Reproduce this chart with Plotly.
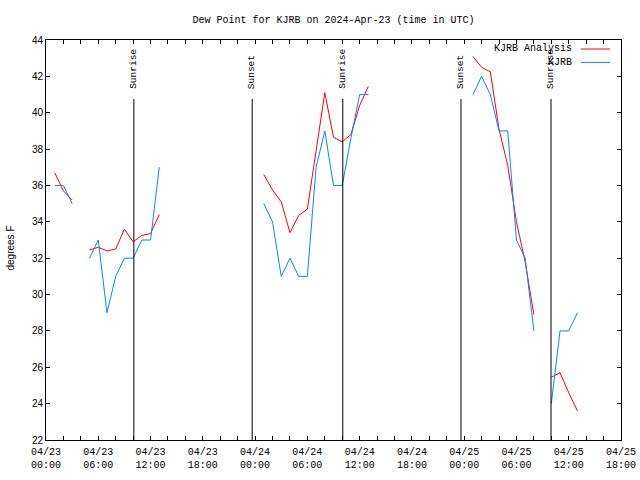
import plotly.graph_objects as go
import pandas as pd

# ---- data -------------------------------------------------------------
base = pd.Timestamp("2024-04-23 00:00")
hours = list(range(0, 62))

analysis = {
    1: 36.7, 2: 35.7, 3: 35.2,
    5: 32.45, 6: 32.6, 7: 32.4, 8: 32.5, 9: 33.6, 10: 32.9, 11: 33.25, 12: 33.35, 13: 34.4,
    25: 36.6, 26: 35.75, 27: 35.1, 28: 33.4, 29: 34.35, 30: 34.7, 31: 37.9, 32: 41.1,
    33: 38.65, 34: 38.4, 35: 38.8, 36: 40.4, 37: 41.45,
    49: 43.1, 50: 42.5, 51: 42.25, 52: 39.1, 53: 37.1, 54: 34.0, 55: 31.8, 56: 28.9,
    58: 25.45, 59: 25.7, 60: 24.6, 61: 23.6,
}
observed = {
    1: 36, 2: 36, 3: 35,
    5: 32, 6: 33, 7: 29, 8: 31, 9: 32, 10: 32, 11: 33, 12: 33, 13: 37,
    25: 35, 26: 34, 27: 31, 28: 32, 29: 31, 30: 31, 31: 37, 32: 39, 33: 36, 34: 36,
    35: 38.6, 36: 41, 37: 41,
    49: 41, 50: 42, 51: 41, 52: 39, 53: 39, 54: 33, 55: 32, 56: 28,
    58: 24, 59: 28, 60: 28, 61: 29,
}

times = [base + pd.Timedelta(hours=h) for h in hours]
analysis_vals = [analysis.get(h) for h in hours]
observed_vals = [observed.get(h) for h in hours]

sun_events = [
    ("Sunrise", "2024-04-23 10:05"),
    ("Sunset", "2024-04-23 23:40"),
    ("Sunrise", "2024-04-24 10:04"),
    ("Sunset", "2024-04-24 23:38"),
    ("Sunrise", "2024-04-25 09:58"),
]

x_tickvals = list(pd.date_range("2024-04-23 00:00", "2024-04-25 18:00", freq="6h"))
x_ticktext = [t.strftime("%m/%d<br>%H:%M") for t in x_tickvals]
y_tickvals = list(range(22, 45, 2))

RED = "#ff0000"
BLUE = "#0a84ff"
MONO = "Liberation Mono, DejaVu Sans Mono, monospace"
SANS = "Liberation Sans, Arial, sans-serif"

fig = go.Figure()
fig.add_trace(go.Scatter(x=times, y=analysis_vals, mode="lines",
                         line=dict(color=RED, width=1), name="KJRB Analysis",
                         connectgaps=False))
fig.add_trace(go.Scatter(x=times, y=observed_vals, mode="lines",
                         line=dict(color=BLUE, width=1), name="KJRB",
                         connectgaps=False))

shapes = []
annotations = []
for label, t in sun_events:
    shapes.append(dict(type="line", xref="x", yref="paper", x0=t, x1=t,
                       y0=0, y1=0.8525, line=dict(color="black", width=1)))
    annotations.append(dict(x=t, xref="x", y=0.8725, yref="paper",
                            text=label, textangle=-90, showarrow=False,
                            xanchor="center", yanchor="bottom",
                            font=dict(family=MONO, size=9.5, color="black")))

# legend (gnuplot style: text right, sample on the right)
legend_items = [("KJRB Analysis", RED, 0.9775), ("KJRB", BLUE, 0.944)]
for name, col, yy in legend_items:
    annotations.append(dict(x=0.918, xref="paper", y=yy, yref="paper", text=name,
                            showarrow=False, xanchor="right", yanchor="middle",
                            font=dict(family=MONO, size=10, color="black")))
    shapes.append(dict(type="line", xref="paper", yref="paper", x0=0.930, x1=0.981,
                       y0=yy, y1=yy, line=dict(color=col, width=1)))

annotations.append(dict(x=-0.061, xref="paper", y=0.481, yref="paper",
                        text="degrees F", textangle=-90, showarrow=False,
                        xanchor="center", yanchor="middle",
                        font=dict(family=SANS, size=10, color="black")))

fig.update_layout(
    width=640, height=480,
    margin=dict(l=46, r=19, t=40, b=40, pad=0, autoexpand=False),
    paper_bgcolor="white", plot_bgcolor="white",
    showlegend=False,
    title=dict(text="Dew Point for KJRB on 2024-Apr-23 (time in UTC)",
               x=0.5, xref="paper", xanchor="center",
               y=1 - 19 / 480, yref="container", yanchor="middle",
               font=dict(family=MONO, size=10, color="black")),
    shapes=shapes, annotations=annotations,
)
fig.update_xaxes(
    type="date", range=["2024-04-23 00:00", "2024-04-25 18:00"],
    tickmode="array", tickvals=x_tickvals, ticktext=x_ticktext,
    ticks="inside", ticklen=4, tickcolor="black", tickwidth=1,
    minor=dict(tickmode="linear", tick0="2024-04-23 00:00", dtick=2 * 3600 * 1000,
               ticks="inside", ticklen=4, tickcolor="black", showgrid=False),
    showline=True, linecolor="black", linewidth=1, mirror="ticks",
    showgrid=False, zeroline=False, automargin=False, ticklabelstandoff=2,
    tickfont=dict(family=MONO, size=10, color="black"),
)
fig.update_yaxes(
    range=[22, 44], tickmode="array", tickvals=y_tickvals,
    ticks="inside", ticklen=4, tickcolor="black", tickwidth=1,
    showline=True, linecolor="black", linewidth=1, mirror="ticks",
    showgrid=False, zeroline=False, automargin=False,
    tickfont=dict(family=SANS, size=10, color="black"),
)

fig.write_html("out.html", config={"displayModeBar": False},
               post_script="document.body.style.margin='0px';")
